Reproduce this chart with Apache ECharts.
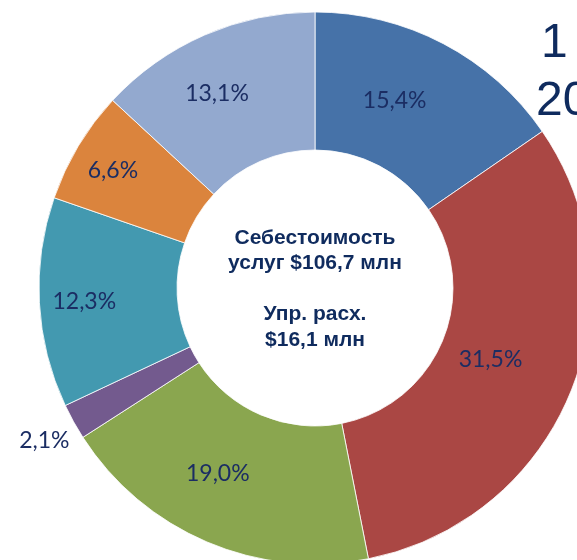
<!DOCTYPE html>
<html><head><meta charset="utf-8">
<script src="https://cdn.jsdelivr.net/npm/echarts@6/dist/echarts.min.js"></script>
<style>html,body{margin:0;padding:0;background:#fff}#c{width:577px;height:560px}</style>
</head><body><div id="c"></div>
<script>
var values = [15.4, 31.5, 19.0, 2.1, 12.3, 6.6, 13.1];
var labels = ['15,4%', '31,5%', '19,0%', '2,1%', '12,3%', '6,6%', '13,1%'];
var colors = ['#4672A8', '#AA4744', '#8AA64F', '#735A8E', '#4399B0', '#DB843D', '#93A9CF'];
var centerLines = ['Себестоимость', 'услуг $106,7 млн', '', 'Упр. расх.', '$16,1 млн'];
var titleLines = ['1', '20'];
var labelOffsets = [[-18, -2], [-19, -8], [-15, -8], [-87, 51], [-21, 2], [-22, -9], [-14, -2]];

var chart = echarts.init(document.getElementById('c'), null, {renderer: 'canvas'});
var data = values.map(function (v, i) {
  return {
    value: v, name: labels[i],
    itemStyle: {color: colors[i]},
    label: {offset: labelOffsets[i]}
  };
});
chart.setOption({
  animation: false,
  series: [{
    type: 'pie',
    center: [315, 288],
    radius: [138, 276],
    startAngle: 90,
    clockwise: true,
    avoidLabelOverlap: false,
    itemStyle: {borderColor: '#ffffff', borderWidth: 0.8},
    label: {
      show: true, position: 'inside', formatter: '{b}',
      color: '#1B2D63', fontSize: 23, fontFamily: 'Lato, sans-serif'
    },
    labelLine: {show: false},
    emphasis: {disabled: true},
    data: data
  }],
  graphic: [{
    type: 'text',
    style: {
      text: centerLines.join('\n'), x: 315, y: 289,
      align: 'center', verticalAlign: 'middle',
      font: 'bold 21px "Liberation Sans", Arial, sans-serif',
      lineHeight: 25.5, fill: '#0F2B5E'
    }
  }, {
    type: 'text',
    style: {
      text: titleLines[0], x: 541, y: 20,
      align: 'left', verticalAlign: 'top',
      font: '48px "Liberation Sans", Arial, sans-serif', fill: '#0F2B5E'
    }
  }, {
    type: 'text',
    style: {
      text: titleLines[1], x: 536, y: 78,
      align: 'left', verticalAlign: 'top',
      font: '48px "Liberation Sans", Arial, sans-serif', fill: '#0F2B5E'
    }
  }]
});
</script></body></html>
